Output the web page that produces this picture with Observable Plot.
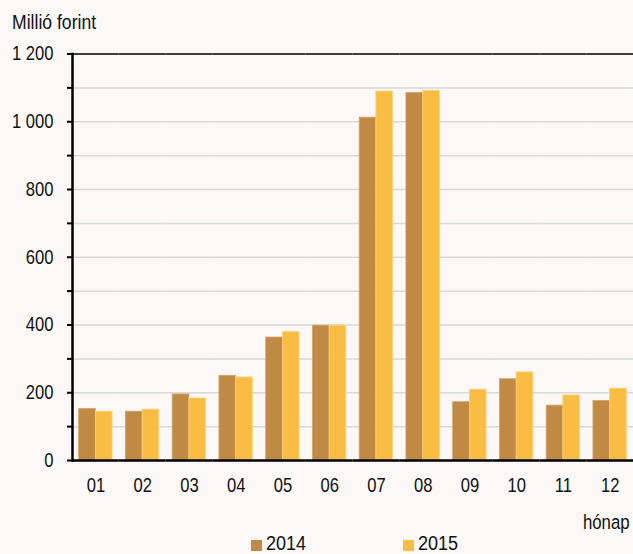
<!DOCTYPE html>
<html><head><meta charset="utf-8">
<script src="https://cdn.jsdelivr.net/npm/d3@7"></script>
<script src="https://cdn.jsdelivr.net/npm/@observablehq/plot@0.6"></script>
<style>
body{margin:0;background:#fbf8f7;font-family:"Liberation Sans",Arial,sans-serif;color:#111;}
#wrap{width:633px;height:554px;overflow:hidden;position:relative;}
#title{height:35px;position:relative;}
.nt{display:inline-block;transform:scaleX(0.84);font-size:20px;line-height:1;white-space:nowrap;}
#title span{position:absolute;left:12px;top:12px;transform-origin:left center;transform:scaleX(0.88);}
#chart svg{display:block;}
#foot{position:relative;height:49px;}
#unit{position:absolute;right:3px;top:7px;transform-origin:right center;}
.item{position:absolute;top:28px;transform-origin:left center;transform:scaleX(0.9);}
.sw{position:absolute;width:11px;height:11px;}
</style></head><body>
<div id="wrap">
<div id="title"><span class="nt">Millió forint</span></div>
<div id="chart"></div>
<div id="foot"><span id="unit" class="nt">hónap</span><div id="legend"></div></div>
</div>
<script>
const months = ["01","02","03","04","05","06","07","08","09","10","11","12"];
const years = ["2014","2015"];
const values2014 = [152,144,195,250,363,398,1012,1085,172,240,162,176];
const values2015 = [144,150,183,245,379,398,1089,1091,209,260,192,212];
const yTicks = d3.range(0,1201,100);
const colors = ["#c08a45","#f9bd44"];
const strokes = ["#d3a468","#fcd07a"];

const rows2014 = months.map((m,i)=>({month:m, year:years[0], value:values2014[i]}));
const rows2015 = months.map((m,i)=>({month:m, year:years[1], value:values2015[i]}));
const fmt = d3.formatLocale({decimal:",", thousands:" ", grouping:[3], currency:["",""]}).format(",");
const font = '"Liberation Sans",Arial,sans-serif';

const chart = Plot.plot({
  width:633, height:470, marginTop:18.5, marginBottom:45, marginLeft:72, marginRight:0,
  style:{background:"transparent", fontFamily:font, fontSize:"20px", color:"#111", overflow:"visible"},
  fx:{domain:months, padding:0, round:false, label:null, axis:null},
  x:{domain:years, paddingInner:0, paddingOuter:0.4, round:false, axis:null},
  y:{domain:[0,1200], axis:null},
  marks:[
    Plot.ruleY(yTicks.filter(d=>d>0&&d<1200), {stroke:"#d9d9d9", strokeWidth:1.5}),
    Plot.barY(rows2014, {fx:"month", x:"year", y:"value", fill:colors[0], stroke:strokes[0], strokeWidth:0.8}),
    Plot.barY(rows2015, {fx:"month", x:"year", y:"value", fill:colors[1], stroke:strokes[1], strokeWidth:0.8}),
    Plot.ruleY([0], {stroke:"#000", strokeWidth:2.5}),
    Plot.ruleY([1200], {stroke:"#000", strokeWidth:1.5}),
    Plot.axisY({ticks:yTicks, tickFormat:d => d%200===0 ? fmt(d) : "", tickSize:5, tickPadding:14, stroke:"#000", strokeWidth:2, fontSize:20, label:null}),
    Plot.frame({anchor:"left", facetAnchor:"left", stroke:"#000", strokeWidth:2.5}),
    Plot.axisFx({tickSize:0, tickPadding:17, fontSize:20, label:null, anchor:"bottom"})
  ]
});
// narrow the glyphs (the reference uses a condensed face)
d3.select(chart).selectAll("text").each(function(){
  const t = this.getAttribute("transform") || "";
  this.setAttribute("transform", (t + " scale(0.83,1)").trim());
});
document.getElementById("chart").appendChild(chart);

const legend = document.getElementById("legend");
const legendX = [251, 403];
years.forEach((y,i)=>{
  const sw = document.createElement("div");
  sw.className="sw"; sw.style.left = legendX[i]+"px"; sw.style.top = "35px"; sw.style.background = colors[i];
  legend.appendChild(sw);
  const t = document.createElement("span");
  t.className="nt item"; t.style.left = (legendX[i]+15)+"px"; t.textContent = y;
  legend.appendChild(t);
});
</script>
</body></html>
